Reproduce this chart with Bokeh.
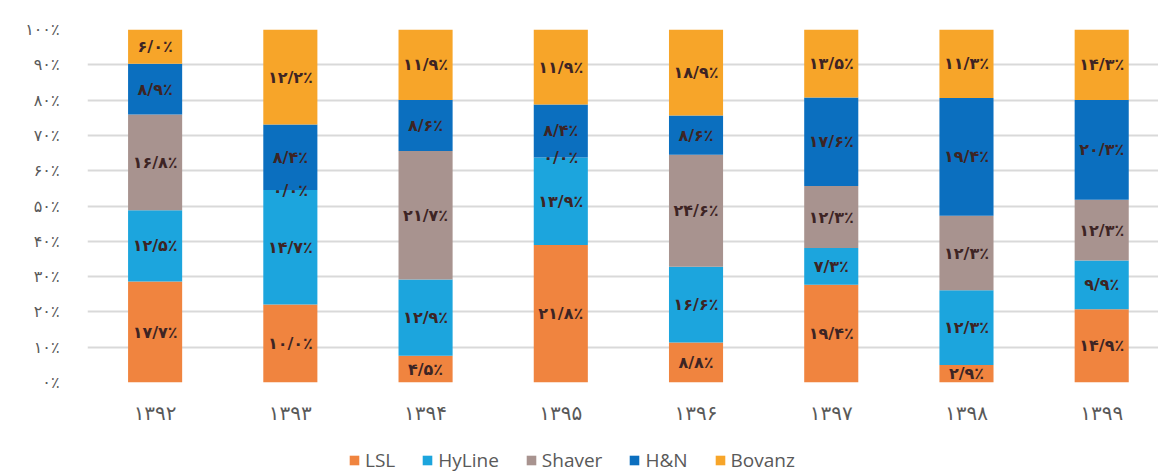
from bokeh.plotting import figure
from bokeh.models import ColumnDataSource, Range1d, FixedTicker, Legend, LegendItem
from bokeh.layouts import column
from bokeh.core.properties import value
from bokeh.embed import file_html
from bokeh.resources import INLINE

years = ["۱۳۹۲", "۱۳۹۳", "۱۳۹۴", "۱۳۹۵", "۱۳۹۶", "۱۳۹۷", "۱۳۹۸", "۱۳۹۹"]
series_names = ["LSL", "HyLine", "Shaver", "H&N", "Bovanz"]
LSL    = [17.7, 10.0, 4.5, 21.8, 8.8, 19.4, 2.9, 14.9]
HyLine = [12.5, 14.7, 12.9, 13.9, 16.6, 7.3, 12.3, 9.9]
Shaver = [16.8, 0.0, 21.7, 0.0, 24.6, 12.3, 12.3, 12.3]
HN     = [8.9, 8.4, 8.6, 8.4, 8.6, 17.6, 19.4, 20.3]
Bovanz = [6.0, 12.2, 11.9, 11.9, 18.9, 13.5, 11.3, 14.3]
y_ticks = [0, 10, 20, 30, 40, 50, 60, 70, 80, 90, 100]
y_tick_labels = ["۰٪", "۱۰٪", "۲۰٪", "۳۰٪", "۴۰٪", "۵۰٪", "۶۰٪", "۷۰٪", "۸۰٪", "۹۰٪", "۱۰۰٪"]

colors = ["#F0843F", "#1CA5DD", "#A8938F", "#0B6FBF", "#F7A529"]
all_series = [LSL, HyLine, Shaver, HN, Bovanz]

FA = "۰۱۲۳۴۵۶۷۸۹"
def fa_num(v):
    s = f"{v:.1f}"
    out = "".join(FA[int(c)] if c.isdigit() else "/" for c in s)
    return out + "٪"

x_idx = list(range(len(years)))
totals = [sum(vals) for vals in zip(*all_series)]

W = 1158
p = figure(width=W, height=446, output_backend="svg", toolbar_location=None,
           x_range=Range1d(-0.5, 7.42), y_range=Range1d(0, 100),
           min_border_left=87, min_border_right=0, min_border_top=29, min_border_bottom=64)
p.outline_line_color = None
p.background_fill_color = "white"
p.border_fill_color = "white"

bottoms = [0.0] * len(years)
label_x, label_y, label_t = [], [], []
for name, vals, col in zip(series_names, all_series, colors):
    pct = [v / t * 100 for v, t in zip(vals, totals)]
    tops = [b + q for b, q in zip(bottoms, pct)]
    src = ColumnDataSource(dict(x=x_idx, bottom=bottoms, top=tops))
    p.vbar(x="x", bottom="bottom", top="top", width=0.4, source=src,
           fill_color=col, line_color=None)
    for i in x_idx:
        label_x.append(i)
        label_y.append((bottoms[i] + tops[i]) / 2)
        label_t.append(fa_num(vals[i]))
    bottoms = tops

lsrc = ColumnDataSource(dict(x=label_x, y=label_y, t=label_t))
p.text(x="x", y="y", text="t", source=lsrc, text_align="center", text_baseline="middle",
       text_font=value("DejaVu Sans"), text_font_size="16px", text_color="#3d2424",
       text_font_style="bold")

p.xgrid.grid_line_color = None
p.ygrid.grid_line_color = "#d9d9d9"
p.ygrid.grid_line_width = 2
p.yaxis.ticker = FixedTicker(ticks=y_ticks)
p.yaxis.major_label_overrides = {t: l for t, l in zip(y_ticks, y_tick_labels)}
p.xaxis.ticker = FixedTicker(ticks=x_idx)
p.xaxis.major_label_overrides = {i: y for i, y in zip(x_idx, years)}
for ax in (p.xaxis, p.yaxis):
    ax.axis_line_color = None
    ax.major_tick_line_color = None
    ax.minor_tick_line_color = None
    ax.major_label_text_color = "#595959"
    ax.major_label_text_font = "DejaVu Sans"
p.yaxis.major_label_text_font_size = "16px"
p.yaxis.major_label_standoff = 22
p.xaxis.major_label_text_font_size = "20px"
p.xaxis.major_label_standoff = 12

# legend in its own strip below the chart (zero-height proxy bars carry the swatches)
lg = figure(width=W, height=29, output_backend="svg", toolbar_location=None,
            x_range=Range1d(0, 1), y_range=Range1d(0, 1),
            x_axis_location=None, y_axis_location=None, min_border=0)
lg.outline_line_color = None
lg.xgrid.grid_line_color = None
lg.ygrid.grid_line_color = None
items = []
for name, col in zip(series_names, colors):
    proxy = ColumnDataSource(dict(x=[0.5], bottom=[0.0], top=[0.0]))
    r = lg.vbar(x="x", bottom="bottom", top="top", width=0.0, source=proxy,
                fill_color=col, line_color=None)
    items.append(LegendItem(label=name, renderers=[r]))
legend = Legend(items=items, orientation="horizontal", location=(261, 2),
                label_text_font="Open Sans", label_text_font_size="19px",
                label_text_color="#595959", glyph_width=12, glyph_height=12,
                spacing=26, label_standoff=5, border_line_color=None,
                background_fill_alpha=0, margin=0, padding=2)
lg.add_layout(legend, "center")

layout = column(p, lg, spacing=0)
open("out.html", "w").write(file_html(layout, INLINE))
